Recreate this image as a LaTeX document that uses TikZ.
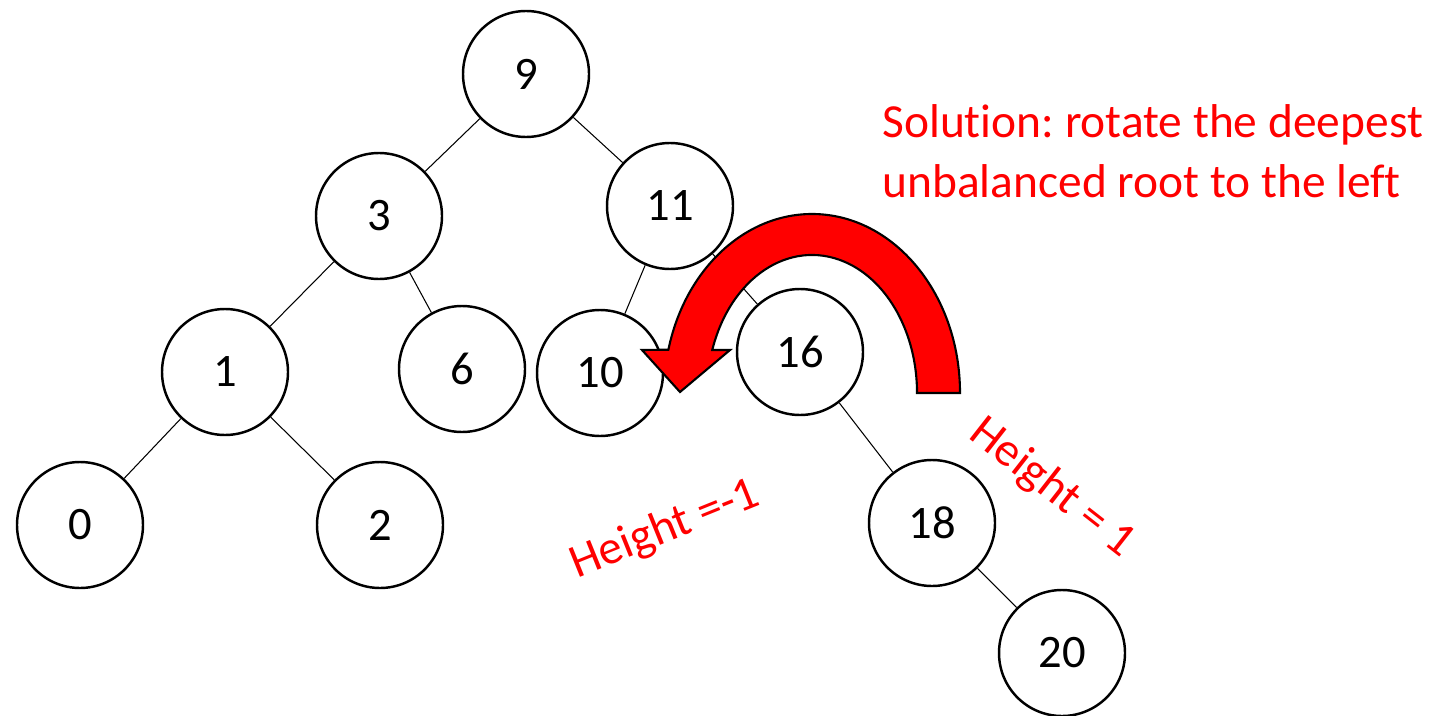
\documentclass[tikz,border=0pt]{standalone}
\usepackage{fontspec}
\setmainfont{Carlito}[Ligatures=CommonOff]
\usepackage{xcolor}
\usepackage{tikz}
\usetikzlibrary{calc}
\frenchspacing
\definecolor{rotred}{RGB}{255,0,0}
\tikzset{treenode/.style={circle, draw=black, line width=1.4pt, fill=white, minimum size=2.52cm, inner sep=0pt, font=\fontsize{26.5}{32}\selectfont}, edge/.style={draw=black, line width=0.6pt}, note/.style={text=rotred, inner sep=0pt, font=\fontsize{27}{34}\selectfont}, turnarrow/.style={draw=black, line width=1.2pt, fill=rotred, line join=miter}}
\begin{document}
\begin{tikzpicture}
\useasboundingbox (0,0) rectangle (29.04,-14.32);
\node[treenode] (n9) at (10.52,-1.48) {9};
\node[treenode] (n3) at (7.58,-4.32) {3};
\node[treenode] (n11) at (13.40,-4.12) {11};
\node[treenode] (n1) at (4.50,-7.44) {1};
\node[treenode] (n6) at (9.24,-7.38) {6};
\node[treenode] (n10) at (12.00,-7.46) {10};
\node[treenode] (n16) at (16.00,-7.04) {16};
\node[treenode] (n0) at (1.60,-10.50) {0};
\node[treenode] (n2) at (7.60,-10.50) {2};
\node[treenode] (n18) at (18.64,-10.46) {18};
\node[treenode] (n20) at (21.24,-13.06) {20};
\draw[edge] (n9)--(n3);
\draw[edge] (n9)--(n11);
\draw[edge] (n3)--(n1);
\draw[edge] (n3)--(n6);
\draw[edge] (n1)--(n0);
\draw[edge] (n1)--(n2);
\draw[edge] (n11)--(n10);
\draw[edge] (n11)--(n16);
\draw[edge] (n16)--(n18);
\draw[edge] (n18)--(n20);
\coordinate (pivot) at (16.24,-7.86);
\draw[turnarrow] ($(pivot)+(2.96,0)$) arc[start angle=0, end angle=166, x radius=2.96cm, y radius=3.58cm] -- (12.84,-7.00) -- (13.60,-7.84) -- (14.60,-7.00) -- ($(pivot)+(-1.995,0.86)$) arc[start angle=161.85, end angle=0, x radius=2.10cm, y radius=2.76cm] -- cycle;
\node[note, anchor=base west, align=left] (solution) at (17.64,-3.94) {Solution: rotate the deepest\\unbalanced root to the left};
\node[note, rotate=22] (hleft) at (13.30,-10.60) {Height =-1};
\node[note, rotate=-38] (hright) at (21.04,-9.76) {Height = 1};
\end{tikzpicture}
\end{document}
